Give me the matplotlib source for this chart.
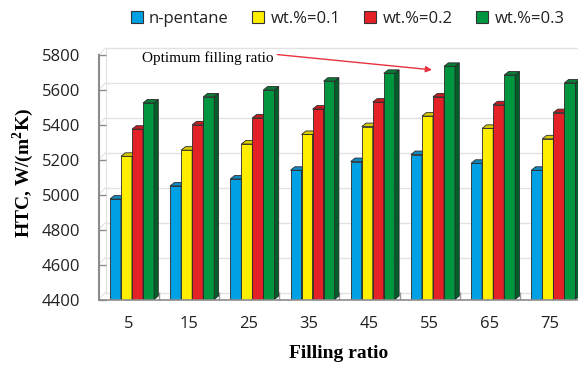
import numpy as np
import matplotlib.pyplot as plt
from matplotlib.patches import Polygon, Patch

# HTC for each filling ratio and nanofluid loading
ratios = ["5", "15", "25", "35", "45", "55", "65", "75"]
series = ["n-pentane", "wt.%=0.1", "wt.%=0.2", "wt.%=0.3"]
htc_pentane = [4975, 5050, 5090, 5140, 5190, 5230, 5180, 5140]
htc_wt01 = [5220, 5255, 5290, 5345, 5390, 5450, 5380, 5320]
htc_wt02 = [5375, 5400, 5440, 5490, 5530, 5560, 5515, 5470]
htc_wt03 = [5525, 5560, 5600, 5650, 5695, 5735, 5685, 5640]
yticks = [4400, 4600, 4800, 5000, 5200, 5400, 5600, 5800]

front = ["#00a1e4", "#ffee00", "#e42127", "#00963f"]
side = ["#0a6c9c", "#b3a800", "#9c161b", "#005f28"]
top = ["#1488c0", "#d8cc00", "#c01c22", "#0a7a36"]

values = [htc_pentane, htc_wt01, htc_wt02, htc_wt03]

fig = plt.figure(figsize=(5.78, 3.65), dpi=100)
W, H = 578, 365
x0_px, ybot_px = 98.5, 299.5
cat_px = 60.2
py_per_unit = (299.5 - 55) / 1400.0
ytop = 5850
ax = fig.add_axes([x0_px / W, (H - ybot_px) / H,
                   (W - x0_px) / W, (ytop - 4400) * py_per_unit / H])
xmax = -0.5 + (W - x0_px) / cat_px
ax.set_xlim(-0.5, xmax)
ax.set_ylim(4400, ytop)

# 3D depth of bars and of the back wall, in data units
bw = 0.183
dx, dy = 4.3 / cat_px, 3.5 / py_per_unit
wx, wy = 7 / cat_px, 7 / py_per_unit

grid_c = "#e2e2e2"
for t in yticks:
    ax.plot([-0.5 + wx, xmax], [t + wy, t + wy], color=grid_c, lw=1.0, zorder=1)
    ax.plot([-0.5, -0.5 + wx], [t, t + wy], color=grid_c, lw=0.8, zorder=1)
ax.plot([-0.5 + wx, -0.5 + wx], [4400 + wy, 5800 + wy], color=grid_c, lw=0.8, zorder=1)

x = np.arange(len(ratios))
base = 4400
for j, vals in enumerate(values):
    lefts = x - 0.31 + j * bw
    ax.bar(lefts, np.array(vals) - base, bw, bottom=base, align="edge",
           color=front[j], edgecolor="#2a2a2a", linewidth=0.6, zorder=3 + j)
    for l, v in zip(lefts, vals):
        r = l + bw
        ax.add_patch(Polygon([(r, base), (r + dx, base + dy), (r + dx, v + dy), (r, v)],
                             closed=True, facecolor=side[j], edgecolor="#2a2a2a",
                             linewidth=0.6, zorder=3 + j))
        ax.add_patch(Polygon([(l, v), (r, v), (r + dx, v + dy), (l + dx, v + dy)],
                             closed=True, facecolor=top[j], edgecolor="#2a2a2a",
                             linewidth=0.6, zorder=3 + j))

# axes frame
for s in ["top", "right"]:
    ax.spines[s].set_visible(False)
ax.spines["left"].set_color("#8c8c8c")
ax.spines["left"].set_linewidth(1.5)
ax.spines["left"].set_bounds(4400, 5800)
ax.spines["bottom"].set_color("#8c8c8c")
ax.spines["bottom"].set_linewidth(1.2)
ax.spines["left"].set_zorder(10)
ax.spines["bottom"].set_zorder(10)

ax.set_yticks(yticks)
ax.tick_params(axis="y", direction="in", length=5, width=1, color="#8c8c8c",
               pad=13, labelsize=12)
ax.set_xticks(x)
ax.set_xticklabels(ratios)
ax.set_xticks(x[:-1] + 0.5, minor=True)
ax.tick_params(axis="x", which="major", length=0, pad=12, labelsize=12)
ax.tick_params(axis="x", which="minor", direction="in", length=6, width=1, color="#9a9a9a")
for lab in ax.get_xticklabels() + ax.get_yticklabels():
    lab.set_fontfamily("Open Sans")
    lab.set_color("#222222")

ax.set_xlabel("Filling ratio", fontfamily="Liberation Serif", fontweight="bold",
              fontsize=14, labelpad=9)
ax.set_ylabel("HTC, W/(m$^\\mathregular{2}$K)", fontfamily="Liberation Serif",
              fontweight="bold", fontsize=14, labelpad=4)

# mark the best filling ratio
best = int(np.argmax(htc_wt03))
bx = x[best] - 0.31 + 3 * bw
ax.annotate("Optimum filling ratio", xy=(bx - 0.2, htc_wt03[best] - 20),
            xytext=(0.22, 5785), ha="left", va="center",
            fontfamily="Liberation Serif", fontsize=11, zorder=12,
            arrowprops=dict(arrowstyle="-|>", color="#e8333f", lw=1.0,
                            mutation_scale=9, shrinkA=1, shrinkB=0, relpos=(1, 0.75)))

handles = [Patch(facecolor=c, edgecolor="#333333", linewidth=0.8) for c in front]
leg = fig.legend(handles, series, loc="center", bbox_to_anchor=(347.5 / W, 1 - 19 / H),
                 ncol=4, frameon=False, handlelength=0.72, handleheight=0.72,
                 handletextpad=0.36, columnspacing=1.44, borderpad=0,
                 prop={"family": "Open Sans", "size": 12})
for t in leg.get_texts():
    t.set_color("#222222")

fig.savefig("out.png", dpi=100)
